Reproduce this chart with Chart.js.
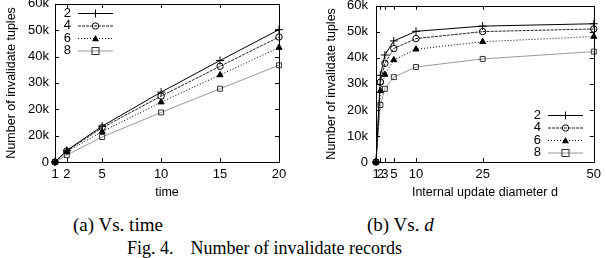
<!DOCTYPE html>
<html>
<head>
<meta charset="utf-8">
<script src="https://cdn.jsdelivr.net/npm/chart.js@4.4.0/dist/chart.umd.min.js"></script>
<style>
  body { margin: 0; width: 606px; height: 258px; background: #fff; position: relative; overflow: hidden; }
  .box { position: absolute; top: -10px; height: 210px; }
  #boxA { left: 0; width: 300px; }
  #boxB { left: 300px; width: 306px; }
  .cap { position: absolute; font-family: "Liberation Serif", "Times New Roman", serif; color: #000; line-height: 1em; white-space: pre; }
</style>
</head>
<body>
<div class="box" id="boxA"><canvas id="chartA"></canvas></div>
<div class="box" id="boxB"><canvas id="chartB"></canvas></div>
<div class="cap" style="left:73px;top:215px;font-size:19px;">(a) Vs. time</div>
<div class="cap" style="left:367px;top:215px;font-size:19px;">(b) Vs. <i>d</i></div>
<div class="cap" style="left:127px;top:239px;font-size:18px;">Fig. 4.<span style="margin-left:17px">Number of invalidate records</span></div>
<script>
// --- dados ---
const seriesNames = ['2', '4', '6', '8'];

const timeX = [1, 2, 5, 10, 15, 20];
const timeS2 = [0, 4400, 13600, 26500, 38500, 50200];
const timeS4 = [0, 4200, 13000, 25000, 36300, 47400];
const timeS6 = [0, 4000, 11500, 22700, 33000, 43400];
const timeS8 = [0, 2600, 9500, 18800, 27800, 36700];
const timeYLabels = ['0', '20k', '20k', '30k', '40k', '50k', '60k'];

const diamX = [1, 2, 3, 5, 10, 25, 50];
const diamS2 = [0, 33300, 41100, 46500, 50200, 52200, 53100];
const diamS4 = [0, 30700, 37900, 43600, 47400, 50100, 51100];
const diamS6 = [0, 27300, 33600, 39200, 43300, 46200, 48200];
const diamS8 = [0, 21900, 28100, 32600, 36500, 39600, 42400];
const diamYLabels = ['0', '10k', '20k', '30k', '40k', '50k', '60k'];

const FONT = '"Liberation Sans", Arial, sans-serif';

// estilos das séries (tipo gnuplot)
const styles = [
  { color: '#000', dash: [], point: 'cross', radius: 4, fill: 'rgba(0,0,0,0)' },
  { color: '#222', dash: [3, 1], point: 'circle', radius: 3.2, fill: 'rgba(0,0,0,0)' },
  { color: '#000', dash: [1, 2], point: 'triangle', radius: 3.5, fill: '#000' },
  { color: '#999', dash: [], point: 'rect', radius: 3.5, fill: 'rgba(0,0,0,0)' }
];

function makeDatasets(xs, ys) {
  return ys.map((vals, i) => ({
    label: seriesNames[i],
    data: xs.map((x, j) => ({ x: x, y: vals[j] })),
    borderColor: styles[i].color,
    borderWidth: 1,
    borderDash: styles[i].dash,
    pointStyle: styles[i].point,
    pointRadius: styles[i].radius,
    pointBorderColor: i === 3 ? '#333' : '#000',
    pointBackgroundColor: styles[i].fill,
    pointBorderWidth: 1,
    tension: 0,
    clip: false
  }));
}

function drawMarker(ctx, style, x, y, r) {
  ctx.save();
  ctx.setLineDash([]);
  ctx.lineWidth = 1;
  ctx.strokeStyle = '#000';
  ctx.fillStyle = '#000';
  ctx.beginPath();
  if (style === 'cross') {
    ctx.moveTo(x - r, y); ctx.lineTo(x + r, y);
    ctx.moveTo(x, y - r); ctx.lineTo(x, y + r);
    ctx.stroke();
  } else if (style === 'circle') {
    ctx.arc(x, y, r, 0, Math.PI * 2);
    ctx.stroke();
  } else if (style === 'triangle') {
    ctx.moveTo(x, y - r); ctx.lineTo(x + r, y + r * 0.75); ctx.lineTo(x - r, y + r * 0.75);
    ctx.closePath();
    ctx.fill();
  } else {
    ctx.strokeStyle = '#333';
    ctx.strokeRect(x - r, y - r, r * 2, r * 2);
  }
  ctx.restore();
}

// moldura, ticks para dentro e legenda
const gnuFrame = {
  id: 'gnuFrame',
  afterDatasetsDraw(chart, args, opts) {
    const { ctx, chartArea: a, scales: { x, y } } = chart;
    ctx.save();
    ctx.strokeStyle = '#000';
    ctx.lineWidth = 1;
    ctx.setLineDash([]);
    ctx.strokeRect(Math.round(a.left) + 0.5, Math.round(a.top) + 0.5,
      Math.round(a.right - a.left), Math.round(a.bottom - a.top));
    ctx.beginPath();
    x.ticks.forEach(t => {
      const px = Math.round(x.getPixelForValue(t.value)) + 0.5;
      ctx.moveTo(px, a.bottom); ctx.lineTo(px, a.bottom - 4);
      ctx.moveTo(px, a.top); ctx.lineTo(px, a.top + 4);
    });
    y.ticks.forEach(t => {
      const py = Math.round(y.getPixelForValue(t.value)) + 0.5;
      ctx.moveTo(a.left, py); ctx.lineTo(a.left + 4, py);
      ctx.moveTo(a.right, py); ctx.lineTo(a.right - 4, py);
    });
    ctx.stroke();

    // legenda: texto à esquerda, amostra de linha à direita
    const L = opts.legend;
    ctx.font = '13px ' + FONT;
    ctx.textAlign = 'right';
    ctx.textBaseline = 'middle';
    chart.data.datasets.forEach((ds, i) => {
      const yy = L.y + i * L.dy;
      ctx.fillStyle = '#000';
      ctx.fillText(ds.label, L.textRight, yy);
      ctx.save();
      ctx.strokeStyle = ds.borderColor;
      ctx.setLineDash(ds.borderDash);
      ctx.beginPath();
      ctx.moveTo(L.x1, yy + 0.5); ctx.lineTo(L.x2, yy + 0.5);
      ctx.stroke();
      ctx.restore();
      drawMarker(ctx, ds.pointStyle, (L.x1 + L.x2) / 2, yy + 0.5, ds.pointRadius);
    });
    ctx.restore();
  }
};

function makeChart(canvasId, xs, ys, xTicks, yLabels, xTitle, cfg) {
  return new Chart(document.getElementById(canvasId), {
    type: 'line',
    data: { datasets: makeDatasets(xs, ys) },
    plugins: [gnuFrame],
    options: {
      responsive: true,
      maintainAspectRatio: false,
      animation: false,
      layout: { padding: cfg.padding },
      plugins: {
        legend: { display: false },
        tooltip: { enabled: false },
        gnuFrame: { legend: cfg.legend }
      },
      scales: {
        x: {
          type: 'linear',
          min: xs[0],
          max: xs[xs.length - 1],
          afterBuildTicks: s => { s.ticks = xTicks.map(v => ({ value: v })); },
          afterFit: s => { s.height = 38; },
          grid: { display: false, drawTicks: false },
          border: { display: false },
          ticks: { autoSkip: false, maxRotation: 0, padding: 5, color: '#000', font: { family: FONT, size: 13 } },
          title: { display: true, text: xTitle, color: '#000', padding: { top: 0, bottom: 0 }, font: { family: FONT, size: 12.5 } }
        },
        y: {
          min: 0,
          max: 60000,
          afterBuildTicks: s => { s.ticks = yLabels.map((_, i) => ({ value: i * 10000 })); },
          afterFit: s => { s.width = cfg.yWidth; },
          grid: { display: false, drawTicks: false },
          border: { display: false },
          ticks: {
            padding: cfg.tickPad, color: '#000', font: { family: FONT, size: 13 },
            callback: (v, i) => yLabels[i]
          },
          title: { display: true, text: 'Number of invalidate tuples', color: '#000', padding: { top: 4.5, bottom: 0 }, font: { family: FONT, size: 12.5 } }
        }
      }
    }
  });
}

makeChart('chartA', timeX, [timeS2, timeS4, timeS6, timeS8], timeX, timeYLabels, 'time', {
  padding: { left: 0, right: 21, top: 13, bottom: 0 },
  yWidth: 55, tickPad: 6,
  legend: { textRight: 71, x1: 78, x2: 113, y: 23, dy: 12.5 }
});

makeChart('chartB', diamX, [diamS2, diamS4, diamS6, diamS8], diamX, diamYLabels, 'Internal update diameter d', {
  padding: { left: 20, right: 8, top: 14, bottom: 0 },
  yWidth: 56, tickPad: 8,
  legend: { textRight: 241, x1: 248, x2: 283, y: 125, dy: 12.5 }
});
</script>
</body>
</html>
